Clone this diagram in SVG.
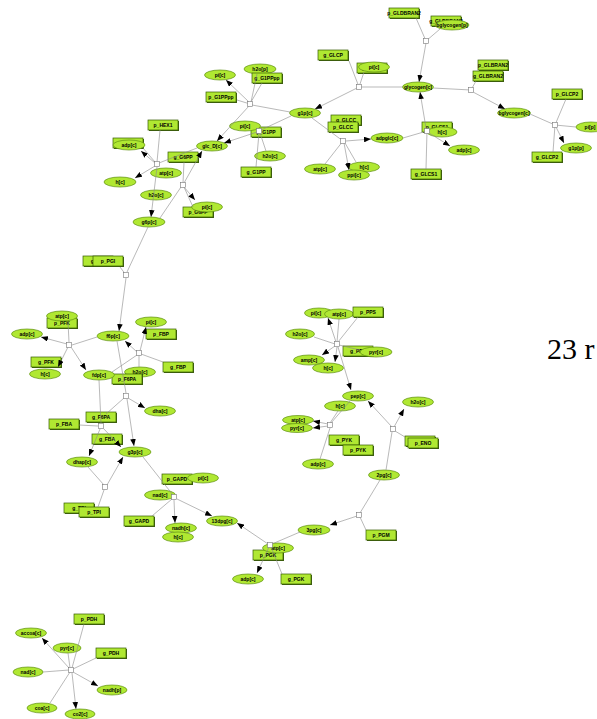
<svg xmlns="http://www.w3.org/2000/svg" width="597" height="719" viewBox="0 0 597 719">
<style>
.sp ellipse{fill:#b0e832;stroke:#5f8f12;stroke-width:0.7}
.gn .b{fill:#b0e832;stroke:#365c00;stroke-width:0.7}
.gn .s{fill:#3f5f12}
text{font-family:"Liberation Sans",Arial,sans-serif;font-size:5px;font-weight:bold;text-anchor:middle;dominant-baseline:central;fill:#000}
.edges line{stroke:#8a8a8a;stroke-width:0.6;fill:none}
.edges line.a{marker-end:url(#ah)}
.rx rect{fill:#fff;stroke:#777;stroke-width:0.6}
.big{font-family:"Liberation Serif","Times New Roman",serif;font-size:30px;font-weight:normal;text-anchor:start;dominant-baseline:auto}
</style>
<defs>
<marker id="ah" viewBox="0 0 10 8" refX="10" refY="4" markerWidth="7" markerHeight="5.6" markerUnits="userSpaceOnUse" orient="auto"><path d="M0,0 L10,4 L0,8 z" fill="#000"/></marker>
</defs>

<!-- gene/protein rectangles and species ellipses -->
<g id="r_p_GLDBRAN2" class="gn"><rect class="s" x="390" y="9" width="30" height="10"/><rect class="b" x="389" y="8" width="30" height="10"/><text x="404" y="13">p_GLDBRAN2</text></g>
<g id="r_g_GLDBRAN2" class="gn"><rect class="s" x="432" y="17" width="30" height="10"/><rect class="b" x="431" y="16" width="30" height="10"/><text x="446" y="21">g_GLDBRAN2</text></g>
<g id="s_bglycogen_p" class="sp"><ellipse cx="452" cy="25" rx="17" ry="5"/><text x="452" y="25">bglycogen[p]</text></g>
<g id="s_glycogen_c" class="sp"><ellipse cx="418" cy="87" rx="15.5" ry="5"/><text x="418" y="87">glycogen[c]</text></g>
<g id="r_p_GLBRAN2" class="gn"><rect class="s" x="479" y="61" width="30" height="10"/><rect class="b" x="478" y="60" width="30" height="10"/><text x="493" y="65">p_GLBRAN2</text></g>
<g id="r_g_GLBRAN2" class="gn"><rect class="s" x="474" y="72" width="30" height="10"/><rect class="b" x="473" y="71" width="30" height="10"/><text x="488" y="76">g_GLBRAN2</text></g>
<g id="s_bglycogen_c" class="sp"><ellipse cx="514" cy="113" rx="16.5" ry="5"/><text x="514" y="113">bglycogen[c]</text></g>
<g id="r_p_GLCP2" class="gn"><rect class="s" x="553" y="90" width="30" height="10"/><rect class="b" x="552" y="89" width="30" height="10"/><text x="567" y="94">p_GLCP2</text></g>
<g id="s_pi_p" class="sp"><ellipse cx="591" cy="127" rx="15" ry="5"/><text x="590" y="127">pi[p]</text></g>
<g id="s_g1p_p" class="sp"><ellipse cx="576" cy="148" rx="15.5" ry="5"/><text x="576" y="148">g1p[p]</text></g>
<g id="r_g_GLCP2" class="gn"><rect class="s" x="533" y="153" width="30" height="10"/><rect class="b" x="532" y="152" width="30" height="10"/><text x="547" y="157">g_GLCP2</text></g>
<g id="r_g_GLCS1" class="gn"><rect class="s" x="412" y="170" width="30" height="10"/><rect class="b" x="411" y="169" width="30" height="10"/><text x="426" y="174">g_GLCS1</text></g>
<g id="r_p_GLCS1" class="gn"><rect class="s" x="423" y="123" width="30" height="10"/><rect class="b" x="422" y="122" width="30" height="10"/><text x="437" y="127">p_GLCS1</text></g>
<g id="s_h_c_1" class="sp"><ellipse cx="442" cy="132" rx="15" ry="5"/><text x="442" y="132">h[c]</text></g>
<g id="s_adp_c_1" class="sp"><ellipse cx="464" cy="150" rx="15.5" ry="5"/><text x="464" y="150">adp[c]</text></g>
<g id="s_adpglc_c" class="sp"><ellipse cx="387" cy="138" rx="16" ry="5"/><text x="387" y="138">adpglc[c]</text></g>
<g id="r_g_GLCP" class="gn"><rect class="s" x="319" y="51" width="30" height="10"/><rect class="b" x="318" y="50" width="30" height="10"/><text x="333" y="55">g_GLCP</text></g>
<g id="r_p_GLCP" class="gn"><rect class="s" x="358" y="64" width="30" height="10"/><rect class="b" x="357" y="63" width="30" height="10"/><text x="372" y="68">p_GLCP</text></g>
<g id="s_pi_c_1" class="sp"><ellipse cx="374" cy="67" rx="15.5" ry="5"/><text x="374" y="67">pi[c]</text></g>
<g id="s_g1p_c" class="sp"><ellipse cx="305" cy="113" rx="15.5" ry="5"/><text x="305" y="113">g1p[c]</text></g>
<g id="r_g_GLCC" class="gn"><rect class="s" x="332" y="116" width="30" height="10"/><rect class="b" x="331" y="115" width="30" height="10"/><text x="346" y="120">g_GLCC</text></g>
<g id="r_p_GLCC" class="gn"><rect class="s" x="329" y="123" width="30" height="10"/><rect class="b" x="328" y="122" width="30" height="10"/><text x="343" y="127">p_GLCC</text></g>
<g id="s_atp_c_1" class="sp"><ellipse cx="320" cy="169" rx="15.5" ry="5"/><text x="320" y="169">atp[c]</text></g>
<g id="s_h_c_2" class="sp"><ellipse cx="364" cy="167" rx="15.5" ry="5"/><text x="364" y="167">h[c]</text></g>
<g id="s_ppi_c" class="sp"><ellipse cx="354" cy="175" rx="15.5" ry="5"/><text x="354" y="175">ppi[c]</text></g>
<g id="s_pi_c_2" class="sp"><ellipse cx="220" cy="75" rx="15.5" ry="5"/><text x="220" y="75">pi[c]</text></g>
<g id="s_h2o_p" class="sp"><ellipse cx="260" cy="69" rx="16" ry="5"/><text x="260" y="69">h2o[p]</text></g>
<g id="r_g_G1PPpp" class="gn"><rect class="s" x="253" y="74" width="30" height="10"/><rect class="b" x="252" y="73" width="30" height="10"/><text x="267" y="78">g_G1PPpp</text></g>
<g id="r_p_G1PPpp" class="gn"><rect class="s" x="207" y="93" width="30" height="10"/><rect class="b" x="206" y="92" width="30" height="10"/><text x="221" y="97">p_G1PPpp</text></g>
<g id="r_p_G1PP" class="gn"><rect class="s" x="252" y="128" width="30" height="10"/><rect class="b" x="251" y="127" width="30" height="10"/><text x="266" y="132">p_G1PP</text></g>
<g id="s_pi_c_3" class="sp"><ellipse cx="245" cy="126" rx="15.5" ry="5"/><text x="245" y="126">pi[c]</text></g>
<g id="s_h2o_c_1" class="sp"><ellipse cx="270" cy="156" rx="15.5" ry="5"/><text x="270" y="156">h2o[c]</text></g>
<g id="r_g_G1PP" class="gn"><rect class="s" x="242" y="168" width="30" height="10"/><rect class="b" x="241" y="167" width="30" height="10"/><text x="256" y="172">g_G1PP</text></g>
<g id="s_glc_D_c" class="sp"><ellipse cx="212" cy="146" rx="15.5" ry="5"/><text x="212" y="146">glc_D[c]</text></g>
<g id="r_p_HEX1" class="gn"><rect class="s" x="149" y="121" width="30" height="10"/><rect class="b" x="148" y="120" width="30" height="10"/><text x="163" y="125">p_HEX1</text></g>
<g id="r_g_HEX1" class="gn"><rect class="s" x="114" y="139" width="30" height="10"/><rect class="b" x="113" y="138" width="30" height="10"/><text x="128" y="143">g_HEX1</text></g>
<g id="s_adp_c_2" class="sp"><ellipse cx="129" cy="145" rx="16" ry="5"/><text x="129" y="145">adp[c]</text></g>
<g id="s_atp_c_2" class="sp"><ellipse cx="166" cy="173" rx="15.5" ry="5"/><text x="166" y="173">atp[c]</text></g>
<g id="s_h_c_3" class="sp"><ellipse cx="120" cy="182" rx="16" ry="5"/><text x="120" y="182">h[c]</text></g>
<g id="r_g_G6PP" class="gn"><rect class="s" x="169" y="153" width="30" height="10"/><rect class="b" x="168" y="152" width="30" height="10"/><text x="183" y="157">g_G6PP</text></g>
<g id="s_h2o_c_2" class="sp"><ellipse cx="156" cy="195" rx="15.5" ry="5"/><text x="156" y="195">h2o[c]</text></g>
<g id="r_p_G6PP" class="gn"><rect class="s" x="184" y="208" width="30" height="10"/><rect class="b" x="183" y="207" width="30" height="10"/><text x="198" y="212">p_G6PP</text></g>
<g id="s_pi_c_4" class="sp"><ellipse cx="207" cy="207" rx="15.5" ry="5"/><text x="207" y="207">pi[c]</text></g>
<g id="s_g6p_c" class="sp"><ellipse cx="149" cy="222" rx="16" ry="5"/><text x="149" y="222">g6p[c]</text></g>
<g id="r_g_PGI" class="gn"><rect class="s" x="84" y="257" width="30" height="10"/><rect class="b" x="83" y="256" width="30" height="10"/><text x="98" y="261">g_PGI</text></g>
<g id="r_p_PGI" class="gn"><rect class="s" x="94" y="257" width="30" height="10"/><rect class="b" x="93" y="256" width="30" height="10"/><text x="108" y="261">p_PGI</text></g>
<g id="s_f6p_c" class="sp"><ellipse cx="113" cy="336" rx="16" ry="5"/><text x="113" y="336">f6p[c]</text></g>
<g id="s_pi_c_5" class="sp"><ellipse cx="151" cy="322" rx="15.5" ry="5"/><text x="151" y="322">pi[c]</text></g>
<g id="r_p_FBP" class="gn"><rect class="s" x="147" y="330" width="30" height="10"/><rect class="b" x="146" y="329" width="30" height="10"/><text x="161" y="334">p_FBP</text></g>
<g id="r_g_FBP" class="gn"><rect class="s" x="164" y="363" width="30" height="10"/><rect class="b" x="163" y="362" width="30" height="10"/><text x="178" y="367">g_FBP</text></g>
<g id="s_h2o_c_3" class="sp"><ellipse cx="140" cy="372" rx="15.5" ry="5"/><text x="140" y="372">h2o[c]</text></g>
<g id="r_p_F6PA" class="gn"><rect class="s" x="113" y="375" width="30" height="10"/><rect class="b" x="112" y="374" width="30" height="10"/><text x="127" y="379">p_F6PA</text></g>
<g id="r_p_PFK" class="gn"><rect class="s" x="48" y="319" width="30" height="10"/><rect class="b" x="47" y="318" width="30" height="10"/><text x="62" y="323">p_PFK</text></g>
<g id="s_atp_c_3" class="sp"><ellipse cx="62" cy="316" rx="15.5" ry="5"/><text x="62" y="316">atp[c]</text></g>
<g id="s_adp_c_3" class="sp"><ellipse cx="27" cy="334" rx="15.5" ry="5"/><text x="27" y="334">adp[c]</text></g>
<g id="r_g_PFK" class="gn"><rect class="s" x="32" y="358" width="30" height="10"/><rect class="b" x="31" y="357" width="30" height="10"/><text x="46" y="362">g_PFK</text></g>
<g id="s_h_c_4" class="sp"><ellipse cx="45" cy="374" rx="15.5" ry="5"/><text x="45" y="374">h[c]</text></g>
<g id="s_fdp_c" class="sp"><ellipse cx="99" cy="375" rx="15.5" ry="5"/><text x="99" y="375">fdp[c]</text></g>
<g id="s_dha_c" class="sp"><ellipse cx="160" cy="411" rx="15.5" ry="5"/><text x="160" y="411">dha[c]</text></g>
<g id="r_g_F6PA" class="gn"><rect class="s" x="87" y="413" width="30" height="10"/><rect class="b" x="86" y="412" width="30" height="10"/><text x="101" y="417">g_F6PA</text></g>
<g id="r_p_FBA" class="gn"><rect class="s" x="50" y="420" width="30" height="10"/><rect class="b" x="49" y="419" width="30" height="10"/><text x="64" y="424">p_FBA</text></g>
<g id="r_g_FBA" class="gn"><rect class="s" x="93" y="435" width="30" height="10"/><rect class="b" x="92" y="434" width="30" height="10"/><text x="107" y="439">g_FBA</text></g>
<g id="s_g3p_c" class="sp"><ellipse cx="135" cy="452" rx="16" ry="5"/><text x="135" y="452">g3p[c]</text></g>
<g id="s_dhap_c" class="sp"><ellipse cx="82" cy="462" rx="15.5" ry="5"/><text x="82" y="462">dhap[c]</text></g>
<g id="r_g_TPI" class="gn"><rect class="s" x="65" y="504" width="30" height="10"/><rect class="b" x="64" y="503" width="30" height="10"/><text x="79" y="508">g_TPI</text></g>
<g id="r_p_TPI" class="gn"><rect class="s" x="80" y="508" width="30" height="10"/><rect class="b" x="79" y="507" width="30" height="10"/><text x="94" y="512">p_TPI</text></g>
<g id="r_p_GAPD" class="gn"><rect class="s" x="163" y="475" width="30" height="10"/><rect class="b" x="162" y="474" width="30" height="10"/><text x="177" y="479">p_GAPD</text></g>
<g id="s_pi_c_6" class="sp"><ellipse cx="203" cy="478" rx="15.5" ry="5"/><text x="203" y="478">pi[c]</text></g>
<g id="s_nad_c_1" class="sp"><ellipse cx="160" cy="495" rx="15.5" ry="5"/><text x="160" y="495">nad[c]</text></g>
<g id="r_g_GAPD" class="gn"><rect class="s" x="125" y="517" width="30" height="10"/><rect class="b" x="124" y="516" width="30" height="10"/><text x="139" y="521">g_GAPD</text></g>
<g id="s_nadh_c" class="sp"><ellipse cx="181" cy="528" rx="15.5" ry="5"/><text x="181" y="528">nadh[c]</text></g>
<g id="s_h_c_5" class="sp"><ellipse cx="178" cy="537" rx="15.5" ry="5"/><text x="178" y="537">h[c]</text></g>
<g id="s_13dpg_c" class="sp"><ellipse cx="222" cy="521" rx="15.5" ry="5"/><text x="222" y="521">13dpg[c]</text></g>
<g id="s_3pg_c" class="sp"><ellipse cx="314" cy="530" rx="16" ry="5"/><text x="314" y="530">3pg[c]</text></g>
<g id="r_p_PGK" class="gn"><rect class="s" x="254" y="551" width="30" height="10"/><rect class="b" x="253" y="550" width="30" height="10"/><text x="268" y="555">p_PGK</text></g>
<g id="s_atp_c_4" class="sp"><ellipse cx="278" cy="548" rx="15.5" ry="5"/><text x="278" y="548">atp[c]</text></g>
<g id="s_adp_c_4" class="sp"><ellipse cx="248" cy="579" rx="15.5" ry="5"/><text x="248" y="579">adp[c]</text></g>
<g id="r_g_PGK" class="gn"><rect class="s" x="282" y="575" width="30" height="10"/><rect class="b" x="281" y="574" width="30" height="10"/><text x="296" y="579">g_PGK</text></g>
<g id="s_2pg_c" class="sp"><ellipse cx="384" cy="475" rx="15.5" ry="5"/><text x="384" y="475">2pg[c]</text></g>
<g id="r_p_PGM" class="gn"><rect class="s" x="367" y="531" width="30" height="10"/><rect class="b" x="366" y="530" width="30" height="10"/><text x="381" y="535">p_PGM</text></g>
<g id="s_h2o_c_4" class="sp"><ellipse cx="418" cy="402" rx="15.5" ry="5"/><text x="418" y="402">h2o[c]</text></g>
<g id="r_g_ENO" class="gn"><rect class="s" x="406" y="437" width="30" height="10"/><rect class="b" x="405" y="436" width="30" height="10"/><text x="420" y="441">g_ENO</text></g>
<g id="r_p_ENO" class="gn"><rect class="s" x="409" y="439" width="30" height="10"/><rect class="b" x="408" y="438" width="30" height="10"/><text x="423" y="443">p_ENO</text></g>
<g id="s_pep_c" class="sp"><ellipse cx="358" cy="396" rx="15.5" ry="5"/><text x="358" y="396">pep[c]</text></g>
<g id="s_h_c_6" class="sp"><ellipse cx="340" cy="406" rx="15.5" ry="5"/><text x="340" y="406">h[c]</text></g>
<g id="s_atp_c_5" class="sp"><ellipse cx="298" cy="420" rx="15.5" ry="4.5"/><text x="298" y="420">atp[c]</text></g>
<g id="s_pyr_c_1" class="sp"><ellipse cx="297" cy="428" rx="15.5" ry="4.5"/><text x="297" y="428">pyr[c]</text></g>
<g id="r_g_PYK" class="gn"><rect class="s" x="330" y="436" width="30" height="10"/><rect class="b" x="329" y="435" width="30" height="10"/><text x="344" y="440">g_PYK</text></g>
<g id="r_p_PYK" class="gn"><rect class="s" x="344" y="446" width="30" height="10"/><rect class="b" x="343" y="445" width="30" height="10"/><text x="358" y="450">p_PYK</text></g>
<g id="s_adp_c_5" class="sp"><ellipse cx="318" cy="464" rx="15.5" ry="5"/><text x="318" y="464">adp[c]</text></g>
<g id="s_pi_c_7" class="sp"><ellipse cx="319" cy="313" rx="14.5" ry="5"/><text x="316" y="313">pi[c]</text></g>
<g id="s_atp_c_6" class="sp"><ellipse cx="339" cy="314" rx="14.5" ry="5"/><text x="339" y="314">atp[c]</text></g>
<g id="r_p_PPS" class="gn"><rect class="s" x="354" y="308" width="30" height="10"/><rect class="b" x="353" y="307" width="30" height="10"/><text x="368" y="312">p_PPS</text></g>
<g id="s_h2o_c_5" class="sp"><ellipse cx="300" cy="334" rx="14.5" ry="5"/><text x="300" y="334">h2o[c]</text></g>
<g id="s_amp_c" class="sp"><ellipse cx="309" cy="360" rx="15.5" ry="5"/><text x="309" y="360">amp[c]</text></g>
<g id="s_h_c_7" class="sp"><ellipse cx="328" cy="368" rx="15.5" ry="5"/><text x="328" y="368">h[c]</text></g>
<g id="r_g_PPS" class="gn"><rect class="s" x="344" y="347" width="30" height="10"/><rect class="b" x="343" y="346" width="30" height="10"/><text x="358" y="351">g_PPS</text></g>
<g id="s_pyr_c_2" class="sp"><ellipse cx="376" cy="352" rx="16" ry="5"/><text x="376" y="352">pyr[c]</text></g>
<g id="r_p_PDH" class="gn"><rect class="s" x="75" y="615" width="30" height="10"/><rect class="b" x="74" y="614" width="30" height="10"/><text x="89" y="619">p_PDH</text></g>
<g id="s_accoa_c" class="sp"><ellipse cx="31" cy="633" rx="15.5" ry="5"/><text x="31" y="633">accoa[c]</text></g>
<g id="s_pyr_c_3" class="sp"><ellipse cx="67" cy="648" rx="14" ry="5"/><text x="67" y="648">pyr[c]</text></g>
<g id="r_g_PDH" class="gn"><rect class="s" x="97" y="649" width="30" height="10"/><rect class="b" x="96" y="648" width="30" height="10"/><text x="111" y="653">g_PDH</text></g>
<g id="s_nad_c_2" class="sp"><ellipse cx="28" cy="672" rx="15" ry="5"/><text x="28" y="672">nad[c]</text></g>
<g id="s_nadh_p" class="sp"><ellipse cx="112" cy="690" rx="15" ry="5"/><text x="112" y="690">nadh[p]</text></g>
<g id="s_coa_c" class="sp"><ellipse cx="42" cy="708" rx="15" ry="5"/><text x="42" y="708">coa[c]</text></g>
<g id="s_co2_c" class="sp"><ellipse cx="80" cy="714" rx="15" ry="5"/><text x="80" y="714">co2[c]</text></g>

<g id="connectors" class="edges">
<line x1="426" y1="41" x2="416" y2="18"/>
<line x1="426" y1="41" x2="440" y2="29"/>
<line class="a" x1="426" y1="43" x2="419" y2="82"/>
<line x1="433" y1="88" x2="471" y2="90"/>
<line x1="471" y1="90" x2="476" y2="81"/>
<line class="a" x1="473" y1="92" x2="505" y2="109"/>
<line x1="530" y1="114" x2="555" y2="125"/>
<line x1="555" y1="125" x2="566" y2="99"/>
<line x1="555" y1="125" x2="553" y2="152"/>
<line x1="555" y1="125" x2="576" y2="127"/>
<line class="a" x1="556" y1="127" x2="564" y2="143"/>
<line x1="403" y1="138" x2="427" y2="131"/>
<line class="a" x1="426" y1="128" x2="420" y2="92"/>
<line class="a" x1="429" y1="133" x2="450" y2="146"/>
<line x1="427" y1="131" x2="426" y2="169"/>
<line x1="359" y1="87" x2="403" y2="87"/>
<line x1="359" y1="87" x2="349" y2="61"/>
<line x1="359" y1="87" x2="364" y2="72"/>
<line class="a" x1="357" y1="88" x2="315" y2="109"/>
<line x1="312" y1="118" x2="343" y2="141"/>
<line x1="343" y1="141" x2="325" y2="164"/>
<line class="a" x1="346" y1="141" x2="371" y2="139"/>
<line class="a" x1="344" y1="143" x2="349" y2="170"/>
<line x1="345" y1="143" x2="356" y2="162"/>
<line x1="250" y1="104" x2="237" y2="100"/>
<line class="a" x1="249" y1="102" x2="226" y2="80"/>
<line x1="251" y1="102" x2="257" y2="74"/>
<line x1="251" y1="102" x2="262" y2="83"/>
<line x1="252" y1="105" x2="290" y2="112"/>
<line class="a" x1="249" y1="106" x2="217" y2="141"/>
<line x1="261" y1="130" x2="291" y2="116"/>
<line class="a" x1="257" y1="132" x2="224" y2="143"/>
<line x1="260" y1="133" x2="266" y2="151"/>
<line x1="259" y1="133" x2="256" y2="167"/>
<line x1="157" y1="162" x2="160" y2="130"/>
<line x1="159" y1="163" x2="197" y2="148"/>
<line class="a" x1="155" y1="163" x2="141" y2="151"/>
<line x1="155" y1="162" x2="143" y2="148"/>
<line class="a" x1="155" y1="166" x2="135" y2="178"/>
<line class="a" x1="157" y1="167" x2="151" y2="217"/>
<line x1="183" y1="183" x2="184" y2="162"/>
<line class="a" x1="184" y1="183" x2="202" y2="151"/>
<line class="a" x1="184" y1="187" x2="195" y2="200"/>
<line x1="181" y1="187" x2="160" y2="218"/>
<line x1="184" y1="187" x2="193" y2="207"/>
<line x1="148" y1="227" x2="127" y2="272"/>
<line x1="126" y1="275" x2="120" y2="267"/>
<line class="a" x1="126" y1="278" x2="119" y2="331"/>
<line class="a" x1="137" y1="352" x2="125" y2="341"/>
<line class="a" x1="140" y1="351" x2="146" y2="327"/>
<line x1="141" y1="354" x2="163" y2="362"/>
<line x1="139" y1="355" x2="139" y2="367"/>
<line x1="112" y1="372" x2="137" y2="355"/>
<line x1="97" y1="337" x2="72" y2="345"/>
<line x1="69" y1="342" x2="68" y2="322"/>
<line class="a" x1="67" y1="344" x2="41" y2="337"/>
<line class="a" x1="68" y1="347" x2="58" y2="367"/>
<line class="a" x1="71" y1="347" x2="86" y2="370"/>
<line x1="117" y1="341" x2="126" y2="393"/>
<line class="a" x1="128" y1="398" x2="145" y2="408"/>
<line class="a" x1="127" y1="399" x2="134" y2="446"/>
<line x1="124" y1="398" x2="106" y2="414"/>
<line x1="99" y1="380" x2="101" y2="423"/>
<line x1="98" y1="426" x2="79" y2="425"/>
<line class="a" x1="103" y1="428" x2="121" y2="447"/>
<line class="a" x1="100" y1="429" x2="89" y2="456"/>
<line x1="88" y1="467" x2="104" y2="485"/>
<line class="a" x1="107" y1="485" x2="123" y2="457"/>
<line x1="104" y1="490" x2="98" y2="507"/>
<line x1="143" y1="457" x2="173" y2="495"/>
<line x1="172" y1="499" x2="152" y2="516"/>
<line class="a" x1="174" y1="500" x2="175" y2="523"/>
<line class="a" x1="177" y1="499" x2="212" y2="516"/>
<line x1="300" y1="532" x2="272" y2="544"/>
<line class="a" x1="268" y1="544" x2="237" y2="523"/>
<line class="a" x1="269" y1="547" x2="257" y2="573"/>
<line x1="271" y1="547" x2="282" y2="574"/>
<line x1="380" y1="480" x2="360" y2="513"/>
<line class="a" x1="357" y1="516" x2="330" y2="525"/>
<line x1="360" y1="517" x2="366" y2="530"/>
<line x1="386" y1="470" x2="392" y2="432"/>
<line class="a" x1="392" y1="427" x2="368" y2="401"/>
<line class="a" x1="394" y1="427" x2="404" y2="409"/>
<line x1="395" y1="431" x2="405" y2="437"/>
<line x1="350" y1="401" x2="331" y2="423"/>
<line x1="338" y1="411" x2="330" y2="423"/>
<line class="a" x1="328" y1="424" x2="313" y2="421"/>
<line class="a" x1="328" y1="426" x2="313" y2="428"/>
<line x1="330" y1="428" x2="320" y2="459"/>
<line x1="337" y1="342" x2="339" y2="319"/>
<line x1="338" y1="342" x2="358" y2="317"/>
<line class="a" x1="336" y1="342" x2="328" y2="318"/>
<line x1="335" y1="344" x2="314" y2="337"/>
<line x1="339" y1="345" x2="360" y2="350"/>
<line class="a" x1="335" y1="346" x2="322" y2="355"/>
<line class="a" x1="337" y1="347" x2="335" y2="362"/>
<line class="a" x1="338" y1="347" x2="351" y2="390"/>
<line x1="72" y1="668" x2="84" y2="624"/>
<line class="a" x1="69" y1="668" x2="42" y2="638"/>
<line x1="70" y1="668" x2="68" y2="653"/>
<line x1="73" y1="669" x2="96" y2="658"/>
<line x1="69" y1="670" x2="43" y2="672"/>
<line class="a" x1="73" y1="672" x2="98" y2="686"/>
<line x1="70" y1="672" x2="50" y2="703"/>
<line class="a" x1="72" y1="673" x2="76" y2="709"/>
</g>

<g id="rx_GLDBRAN2" class="rx"><rect x="423.5" y="38.5" width="5" height="5"/></g>
<g id="rx_GLBRAN2" class="rx"><rect x="468.5" y="87.5" width="5" height="5"/></g>
<g id="rx_GLCP2" class="rx"><rect x="552.5" y="122.5" width="5" height="5"/></g>
<g id="rx_GLCS1" class="rx"><rect x="424.5" y="128.5" width="5" height="5"/></g>
<g id="rx_GLCP" class="rx"><rect x="356.5" y="84.5" width="5" height="5"/></g>
<g id="rx_GLCC" class="rx"><rect x="340.5" y="138.5" width="5" height="5"/></g>
<g id="rx_G1PPpp" class="rx"><rect x="247.5" y="101.5" width="5" height="5"/></g>
<g id="rx_G1PP" class="rx"><rect x="256.5" y="128.5" width="5" height="5"/></g>
<g id="rx_HEX1" class="rx"><rect x="154.5" y="161.5" width="5" height="5"/></g>
<g id="rx_G6PP" class="rx"><rect x="180.5" y="182.5" width="5" height="5"/></g>
<g id="rx_PGI" class="rx"><rect x="123.5" y="272.5" width="5" height="5"/></g>
<g id="rx_FBP" class="rx"><rect x="136.5" y="350.5" width="5" height="5"/></g>
<g id="rx_PFK" class="rx"><rect x="66.5" y="342.5" width="5" height="5"/></g>
<g id="rx_F6PA" class="rx"><rect x="123.5" y="393.5" width="5" height="5"/></g>
<g id="rx_FBA" class="rx"><rect x="98.5" y="423.5" width="5" height="5"/></g>
<g id="rx_TPI" class="rx"><rect x="102.5" y="484.5" width="5" height="5"/></g>
<g id="rx_GAPD" class="rx"><rect x="171.5" y="494.5" width="5" height="5"/></g>
<g id="rx_PGK" class="rx"><rect x="267.5" y="542.5" width="5" height="5"/></g>
<g id="rx_PGM" class="rx"><rect x="356.5" y="512.5" width="5" height="5"/></g>
<g id="rx_ENO" class="rx"><rect x="390.5" y="426.5" width="5" height="5"/></g>
<g id="rx_PYK" class="rx"><rect x="327.5" y="422.5" width="5" height="5"/></g>
<g id="rx_PPS" class="rx"><rect x="334.5" y="341.5" width="5" height="5"/></g>
<g id="rx_PDH" class="rx"><rect x="68.5" y="667.5" width="5" height="5"/></g>

<text class="big" x="547" y="359">23 r</text>
</svg>
